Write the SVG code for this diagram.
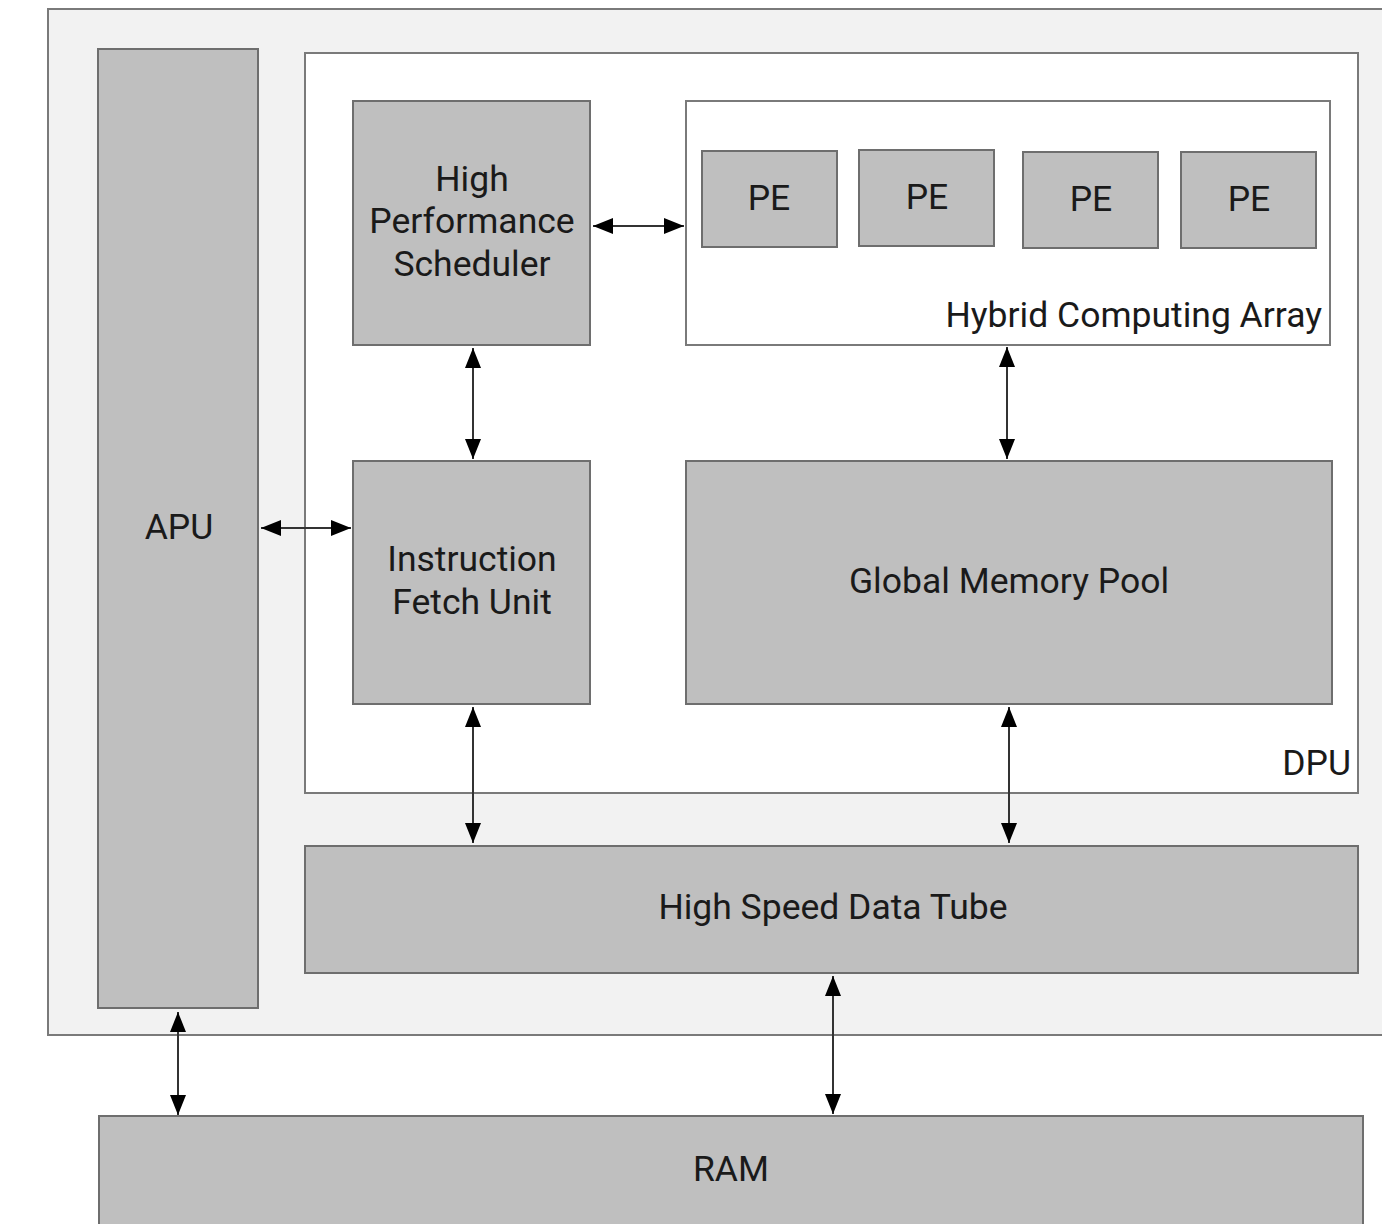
<svg xmlns="http://www.w3.org/2000/svg" width="1382" height="1224" viewBox="0 0 1382 1224">
<style>
.box{fill:#bfbfbf;stroke:#6e6e6e;stroke-width:2}
.white{fill:#ffffff;stroke:#7a7a7a;stroke-width:2}
.outer{fill:#f2f2f2;stroke:#7a7a7a;stroke-width:2}
text{font-family:Roboto,"Liberation Sans",sans-serif;font-size:35.5px;fill:#1a1a1a}
.c{text-anchor:middle}
.e{text-anchor:end}
.conn line{stroke:#333;stroke-width:2;marker-start:url(#ah);marker-end:url(#ah)}
</style>
<defs>
<marker id="ah" viewBox="0 0 20 16" refX="20" refY="8" markerWidth="20" markerHeight="16" markerUnits="userSpaceOnUse" orient="auto-start-reverse">
<path d="M0,0 L20,8 L0,16 Z" fill="#000"/>
</marker>
</defs>
<rect x="0" y="0" width="1382" height="1224" fill="#ffffff"/>
<g id="system"><rect class="outer" x="48" y="9" width="1345" height="1026"/></g>
<g id="apu"><rect class="box" x="98" y="49" width="160" height="959"/><text class="c" x="179" y="539">APU</text></g>
<g id="dpu"><rect class="white" x="305" y="53" width="1053" height="740"/><text class="e" x="1351" y="775">DPU</text></g>
<g id="hps"><rect class="box" x="353" y="101" width="237" height="244"/>
<text class="c" x="472" y="191">High</text><text class="c" x="472" y="233">Performance</text><text class="c" x="472" y="276">Scheduler</text></g>
<g id="hca"><rect class="white" x="686" y="101" width="644" height="244"/><text class="e" x="1322" y="327">Hybrid Computing Array</text></g>
<g id="pe1"><rect class="box" x="702" y="151" width="135" height="96"/><text class="c" x="769" y="210">PE</text></g>
<g id="pe2"><rect class="box" x="859" y="150" width="135" height="96"/><text class="c" x="927" y="209">PE</text></g>
<g id="pe3"><rect class="box" x="1023" y="152" width="135" height="96"/><text class="c" x="1091" y="211">PE</text></g>
<g id="pe4"><rect class="box" x="1181" y="152" width="135" height="96"/><text class="c" x="1249" y="211">PE</text></g>
<g id="ifu"><rect class="box" x="353" y="461" width="237" height="243"/>
<text class="c" x="472" y="571">Instruction</text><text class="c" x="472" y="614">Fetch Unit</text></g>
<g id="gmp"><rect class="box" x="686" y="461" width="646" height="243"/><text class="c" x="1009" y="593">Global Memory Pool</text></g>
<g id="hsdt"><rect class="box" x="305" y="846" width="1053" height="127"/><text class="c" x="833" y="919">High Speed Data Tube</text></g>
<g id="ram"><rect class="box" x="99" y="1116" width="1264" height="120"/><text class="c" x="731" y="1181">RAM</text></g>
<g id="connectors" class="conn">
<line x1="593" y1="226" x2="684" y2="226"/>
<line x1="473" y1="348" x2="473" y2="459"/>
<line x1="1007" y1="347" x2="1007" y2="459"/>
<line x1="261" y1="528" x2="351" y2="528"/>
<line x1="473" y1="707" x2="473" y2="843"/>
<line x1="1009" y1="707" x2="1009" y2="843"/>
<line x1="833" y1="976" x2="833" y2="1114"/>
<line x1="178" y1="1012" x2="178" y2="1115"/>
</g>
</svg>
